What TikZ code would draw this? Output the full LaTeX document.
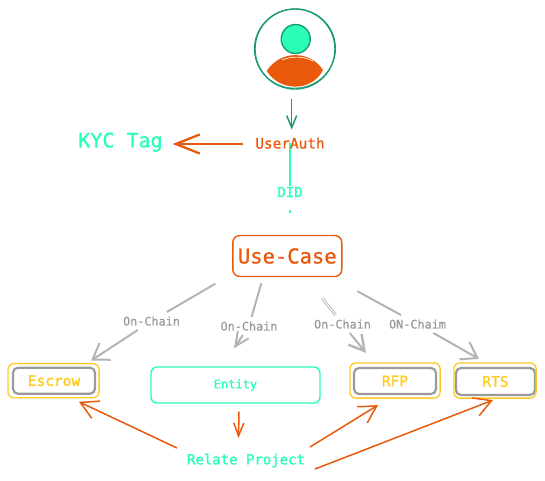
\documentclass[tikz,border=0pt]{standalone}
\usepackage{fontspec}
\setmainfont[RawFeature={embolden=0.9}]{DejaVu Sans Mono}
\newfontfamily\heavyfont[RawFeature={embolden=1.8}]{DejaVu Sans Mono}
\usetikzlibrary{arrows.meta}
\definecolor{cyanc}{HTML}{2BFFB5}
\definecolor{orangec}{HTML}{E8590C}
\definecolor{tealc}{HTML}{1B9A76}
\definecolor{grayc}{HTML}{B4B4B4}
\definecolor{graytext}{HTML}{9A9A9A}
\definecolor{yellowc}{HTML}{FFC91F}
\newcommand{\fsz}[1]{\fontsize{#1}{#1}\selectfont}
\tikzset{
  txt/.style={inner sep=0pt,outer sep=1pt,text depth=0pt,align=center},
  chainlabel/.style={txt,text=graytext,font=\fsz{11.8},minimum height=14pt,outer sep=2pt},
  tagbox/.style={draw=graytext,line width=2.2pt,rounded corners=5pt,text=yellowc,inner sep=0pt,minimum height=26pt,font=\fsz{14.5}},
  halo/.style={draw=yellowc,line width=1.3pt,rounded corners=6pt},
  grayline/.style={draw=grayc,line width=2pt},
  grayarrow/.style={grayline,-{Straight Barb[length=15pt,width=20pt,line width=2pt]}},
  orangearrow/.style={draw=orangec,line width=1.5pt,-{Straight Barb[length=17pt,width=19pt,line width=1.5pt]}},
}
\begin{document}
\begin{tikzpicture}[x=1pt,y=-1pt]
\useasboundingbox (0,0) rectangle (545,480);
% person
\node[circle,draw=tealc,line width=1.4pt,minimum size=80pt,inner sep=0pt] (ring) at (295,49) {};
\draw[tealc,line width=.8pt,rotate around={8:(295,49)}] (295,48.5) ellipse (40.6 and 39.6);
\node[circle,draw=tealc,fill=cyanc,line width=1.4pt,minimum size=29pt,inner sep=0pt] (head) at (295.7,39) {};
\fill[orangec] (266.7,71) .. controls (280,50) and (310,50) .. (323,70) .. controls (312,92) and (280,92) .. cycle;
\draw[white,line width=.6pt] (282,60) .. controls (292,56) and (303,56) .. (313,61);
% top texts
\node[txt,text=cyanc,font=\fsz{20}] (kyc) at (120.5,140) {KYC Tag};
\node[txt,text=cyanc,font=\fsz{14}] (did) at (290,192) {DID};
\coordinate (authc) at (290,143);
\draw[cyanc,line width=2.2pt] (authc) -- (did);
\draw[cyanc,line width=1.4pt] ([shift={(0,12)}]did.south) -- ([shift={(0,15)}]did.south);
\node[txt,text=orangec,font=\fsz{14.4}] (userauth) at (authc) {UserAuth};
\draw[orangec,line width=2.3pt,-{Straight Barb[length=24pt,width=19pt,line width=2.3pt]}] ([shift={(-11,1)}]userauth.west) -- ([shift={(9,4)}]kyc.east);
\draw[tealc,line width=1.5pt,-{Straight Barb[length=12pt,width=10pt,line width=1.5pt]}] ([shift={(-3.3,50)}]ring.center) -- ([shift={(1.7,-7)}]userauth.north);
% boxes
\node[draw=orangec,line width=1.4pt,rounded corners=7pt,text=orangec,font=\fsz{20.5},minimum width=109pt,minimum height=41pt,inner sep=0pt] (usecase) at (287.3,256) {Use-Case};
\node[tagbox,minimum width=82pt,font=\heavyfont\fsz{14.5}] (escrow) at (54,380.7) {Escrow};
\node[draw=cyanc,line width=1.4pt,rounded corners=6pt,text=cyanc,font=\fsz{12},minimum width=169pt,minimum height=36pt,inner sep=0pt] (entity) at (235.5,385) {Entity};
\node[tagbox,minimum width=82pt] (rfp) at (395,381) {RFP};
\node[tagbox,minimum width=79pt,minimum height=27pt] (rts) at (495.5,381.5) {\raisebox{-2pt}{RTS}};
\draw[halo] ([shift={(-4,-3)}]escrow.north west) rectangle ([shift={(3,3)}]escrow.south east);
\draw[halo] ([shift={(-3,-4)}]rfp.north west) rectangle ([shift={(3,3)}]rfp.south east);
\draw[halo] ([shift={(-1,-4)}]rts.north west) rectangle ([shift={(0,2)}]rts.south east);
\node[txt,text=cyanc,font=\heavyfont\fsz{14}] (relate) at (246,459) {Relate Project};
% labels
\node[chainlabel] (l1) at (151.5,321) {On-Chain};
\node[chainlabel] (l2) at (249,326) {On-Chain};
\node[chainlabel] (l3) at (342.5,324) {On-Chain};
\node[chainlabel] (l4) at (417.5,324) {ON-Chaim};
% gray connectors
\draw[grayline] ([shift={(-72,6.5)}]usecase.south) -- (l1);
\draw[grayarrow] (l1) -- ([shift={(37,-6)}]escrow.north);
\draw[grayline] ([shift={(-26,6)}]usecase.south) -- (l2);
\draw[grayarrow,-{Straight Barb[length=14pt,width=13pt,line width=2pt]}] (l2) -- ([shift={(-1.5,-18)}]entity.north);
\draw[draw=grayc,line width=.9pt,double=white,double distance=1pt] ([shift={(35,21)}]usecase.south) -- (l3);
\draw[grayarrow,-{Straight Barb[length=15pt,width=17pt,line width=2.4pt]}] (l3) -- ([shift={(-29,-14)}]rfp.north);
\draw[grayline] ([shift={(70,14)}]usecase.south) -- (l4);
\draw[grayarrow] (l4) -- ([shift={(-16.5,-8)}]rts.north);
% orange connectors
\draw[orangearrow] ([shift={(-69,-11)}]relate.center) -- ([shift={(25,7)}]escrow.south);
\draw[orangearrow] ([shift={(64,-12)}]relate.center) -- ([shift={(-17,10)}]rfp.south);
\draw[orangearrow] ([shift={(69,10)}]relate.center) -- ([shift={(-2.5,4)}]rts.south);
\draw[draw=orangec,line width=1.5pt,-{Straight Barb[length=13pt,width=10pt,line width=1.5pt]}] ([shift={(3.5,8)}]entity.south) -- ([shift={(-7.5,-21)}]relate.center);
\end{tikzpicture}
\end{document}
